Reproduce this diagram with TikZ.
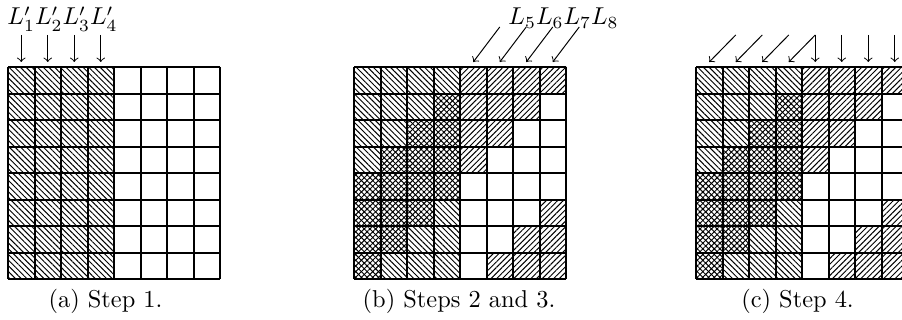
\documentclass[tikz,border=0pt]{standalone}
\usetikzlibrary{patterns.meta}
\begin{document}
\begin{tikzpicture}[x=0.41pt,y=-0.41pt,
  gridline/.style={line width=0.55pt},
  arr/.style={->,line width=0.4pt},
  nwfill/.style={pattern={Lines[angle=-45,distance=1.65pt,line width=0.4pt]}},
  nefill/.style={pattern={Lines[angle=45,distance=1.65pt,line width=0.4pt]}},
  captext/.style={anchor=base},
  toplabel/.style={anchor=base west,inner sep=0pt}]
\useasboundingbox (0,0) rectangle (902,320);
\def\cs{26.5}
\def\gy{67}
% ---------- (a) ----------
\foreach \r in {1,...,8}{
  \foreach \c in {1,...,4}{
    \pgfmathsetmacro\xa{round(8+(\c-1)*\cs)}
    \pgfmathsetmacro\xb{round(8+\c*\cs)}
    \pgfmathsetmacro\ya{round(\gy+(\r-1)*\cs)}
    \pgfmathsetmacro\yb{round(\gy+\r*\cs)}
    \fill[nwfill] (\xa,\ya) rectangle (\xb,\yb);
  }
}
% ---------- (b) and (c) ----------
\foreach \gx in {354,696}{
  \foreach \r in {1,...,8}{
    \foreach \c in {1,...,8}{
      \pgfmathsetmacro\xa{round(\gx+(\c-1)*\cs)}
      \pgfmathsetmacro\xb{round(\gx+\c*\cs)}
      \pgfmathsetmacro\ya{round(\gy+(\r-1)*\cs)}
      \pgfmathsetmacro\yb{round(\gy+\r*\cs)}
      \ifnum\c<5
        \fill[nwfill] (\xa,\ya) rectangle (\xb,\yb);
      \fi
      \pgfmathtruncatemacro\m{mod(\r+\c,8)}
      \ifnum\m>5
        \fill[nefill] (\xa,\ya) rectangle (\xb,\yb);
      \else\ifnum\m<2
        \fill[nefill] (\xa,\ya) rectangle (\xb,\yb);
      \fi\fi
    }
  }
}
% ---------- grid lines ----------
\foreach \gx in {8,354,696}{
  \foreach \i in {0,...,8}{
    \pgfmathsetmacro\px{round(\gx+\i*\cs)}
    \pgfmathsetmacro\py{round(\gy+\i*\cs)}
    \draw[gridline] (\px,\gy) -- (\px,{\gy+8*\cs});
    \draw[gridline] (\gx,\py) -- ({\gx+8*\cs},\py);
  }
}
% ---------- labels ----------
\node[toplabel] (la) at (7,25) {$L'_1L'_2L'_3L'_4$};
\node[toplabel] (lb) at (508,25) {$L_5L_6L_7L_8$};
% ---------- arrows (a) ----------
\foreach \c in {1,...,4}{
  \coordinate (as\c) at ({8+(\c-0.5)*\cs},35);
  \coordinate (ae\c) at ({8+(\c-0.5)*\cs},62);
  \draw[arr] (as\c) -- (ae\c);
}
% ---------- arrows (b) ----------
\foreach \c in {5,...,8}{
  \coordinate (bs\c) at ({354+(\c+0.5)*\cs},27);
  \coordinate (be\c) at ({354+(\c-0.5)*\cs},62);
  \draw[arr] (bs\c) -- (be\c);
}
% ---------- arrows (c) ----------
\foreach \c in {1,...,4}{
  \coordinate (cs\c) at ({696+(\c+0.5)*\cs},35);
  \coordinate (ce\c) at ({696+(\c-0.5)*\cs},62);
  \draw[arr] (cs\c) -- (ce\c);
}
\foreach \c in {5,...,8}{
  \coordinate (cvs\c) at ({696+(\c-0.5)*\cs},35);
  \coordinate (cve\c) at ({696+(\c-0.5)*\cs},62);
  \draw[arr] (cvs\c) -- (cve\c);
}
% ---------- captions ----------
\node[captext] (capa) at (105.5,307) {(a) Step 1.};
\node[captext] (capb) at (459,307) {(b) Steps 2 and 3.};
\node[captext] (capc) at (797.5,307) {(c) Step 4.};
\end{tikzpicture}
\end{document}
